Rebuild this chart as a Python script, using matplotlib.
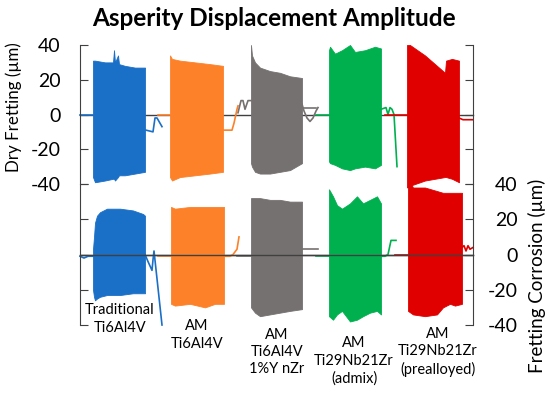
import numpy as np
import matplotlib.pyplot as plt
import matplotlib.transforms as mtransforms

plt.rcParams['font.family'] = ['Lato', 'DejaVu Sans']
plt.rcParams['axes.unicode_minus'] = False

# sample names and colours (left to right)
names = ['Traditional\nTi6Al4V', 'AM\nTi6Al4V', 'AM\nTi6Al4V\n1%Y nZr',
         'AM\nTi29Nb21Zr\n(admix)', 'AM\nTi29Nb21Zr\n(prealloyed)']
colors = ['#1a6fc7', '#fd8128', '#767171', '#00b04f', '#e10000']

# ---- Dry fretting: oscillation envelopes (time, upper, lower) ----
dry_blue_t = [13, 15, 25, 33, 34, 35, 38, 39, 45, 55, 65]
dry_blue_up = [31, 31, 30, 30, 37, 30, 34, 29, 28, 27, 27]
dry_blue_lo = [-36, -39, -38, -37, -37, -38, -36, -35, -35, -34, -33]
dry_orange_t = [90, 92, 100, 115, 130, 143]
dry_orange_up = [34, 32, 31, 30, 29, 28]
dry_orange_lo = [-36, -38, -36, -35, -34, -33]
dry_grey_t = [171, 172, 175, 180, 190, 200, 210, 222]
dry_grey_up = [40, 34, 30, 27, 25, 24, 22, 21]
dry_grey_lo = [-28, -30, -33, -34, -34, -33, -32, -28]
dry_green_t = [249, 250, 255, 262, 270, 275, 285, 295, 301]
dry_green_up = [37, 39, 35, 37, 40, 36, 37, 39, 38]
dry_green_lo = [-27, -28, -29, -31, -32, -31, -30, -31, -29]
dry_red_t = [327, 330, 335, 345, 355, 365, 366, 372, 379]
dry_red_up = [40, 40, 38, 34, 29, 24, 31, 32, 31]
dry_red_lo = [-42, -41, -40, -38, -37, -36, -36, -37, -39]

# dry fretting: traces before/after the oscillation
dry_blue_pre = ([0, 13], [0, 0])
dry_blue_post = ([65, 66, 73, 75, 77, 79, 82], [-9, -9, -10, -2, -2, -4, -7])
dry_orange_pre = ([78, 90], [0, 0])
dry_orange_post = ([143, 152, 154, 157, 158], [-9, -9, -5, 3, 5])
dry_grey_pre = ([158, 161, 163, 165, 168, 171], [1, 8, 8, 3, 8, 8])
dry_grey_post = ([222, 224, 227, 230, 233, 236, 238], [6, 2, -2, -4, -2, 2, 4])
dry_grey_post2 = ([223, 236], [4, 4])
dry_green_pre = ([236, 249], [0, 0])
dry_green_post = ([301, 306, 308, 310, 312, 314, 317], [3, 4, 0, 4, 3, 0, -30])
dry_red_pre = ([305, 327], [0, 0])
dry_red_post = ([379, 383, 393], [-2, -3, -3])

# ---- Fretting corrosion ----
cor_blue_t = [13, 14, 15, 17, 20, 27, 40, 53, 63, 65]
cor_blue_up = [3, 10, 18, 22, 24, 26, 26, 25, 23, 22]
cor_blue_lo = [-20, -24, -26, -25, -24, -23, -23, -22, -22, -22]
cor_orange_t = [91, 95, 110, 125, 135, 144]
cor_orange_up = [27, 26, 27, 27, 27, 27]
cor_orange_lo = [-28, -29, -28, -30, -28, -28]
cor_grey_t = [171, 175, 180, 190, 200, 210, 222]
cor_grey_up = [32, 32, 32, 31, 31, 30, 30]
cor_grey_lo = [-30, -33, -35, -34, -33, -32, -31]
cor_green_t = [249, 253, 257, 262, 270, 277, 283, 290, 297, 301]
cor_green_up = [37, 33, 28, 26, 29, 33, 29, 31, 33, 29]
cor_green_lo = [-35, -37, -34, -32, -38, -37, -35, -33, -32, -34]
cor_red_t = [328, 333, 345, 357, 363, 370, 375, 382]
cor_red_up = [43, 38, 38, 36, 35, 35, 35, 35]
cor_red_lo = [-32, -34, -35, -34, -30, -28, -29, -28]

cor_blue_pre = ([0, 4, 8, 13], [-1, -2, -1, -1])
cor_blue_post = ([65, 68, 72, 73, 74, 82], [0, -4, -9, -3, 2, -40])
cor_orange_pre = ([78, 91], [-1, -1])
cor_orange_post = ([144, 150, 153, 157, 159], [-1, -1, 0, 3, 10])
cor_grey_pre = ([157, 171], [-1, -1])
cor_grey_post = ([222, 238], [3, 3])
cor_green_pre = ([236, 249], [-1, -1])
cor_green_post = ([301, 305, 308, 311, 316], [-1, -1, 0, 8, 8])
cor_red_pre = ([315, 328], [0, 0])
cor_red_post = ([382, 384, 386, 388, 390, 393], [4, 5, 2, 5, 3, 4])

yticks = [-40, -20, 0, 20, 40]

dry = [(dry_blue_t, dry_blue_up, dry_blue_lo, [dry_blue_pre, dry_blue_post]),
       (dry_orange_t, dry_orange_up, dry_orange_lo, [dry_orange_pre, dry_orange_post]),
       (dry_grey_t, dry_grey_up, dry_grey_lo, [dry_grey_pre, dry_grey_post, dry_grey_post2]),
       (dry_green_t, dry_green_up, dry_green_lo, [dry_green_pre, dry_green_post]),
       (dry_red_t, dry_red_up, dry_red_lo, [dry_red_pre, dry_red_post])]
cor = [(cor_blue_t, cor_blue_up, cor_blue_lo, [cor_blue_pre, cor_blue_post]),
       (cor_orange_t, cor_orange_up, cor_orange_lo, [cor_orange_pre, cor_orange_post]),
       (cor_grey_t, cor_grey_up, cor_grey_lo, [cor_grey_pre, cor_grey_post]),
       (cor_green_t, cor_green_up, cor_green_lo, [cor_green_pre, cor_green_post]),
       (cor_red_t, cor_red_up, cor_red_lo, [cor_red_pre, cor_red_post])]

W, H = 550, 393
fig = plt.figure(figsize=(5.5, 3.93), dpi=100)
ax1 = fig.add_axes([80 / W, 1 - 184 / H, 393 / W, 139 / H])
ax2 = fig.add_axes([80 / W, 1 - 325 / H, 393 / W, 141 / H])


def draw(ax, series):
    ax.axhline(0, color='#404040', lw=1, zorder=1, clip_on=False)
    for (t, up, lo, traces), c in zip(series, colors):
        ax.fill_between(t, lo, up, color=c, lw=0.6, edgecolor=c, zorder=2, clip_on=False)
        for tx, ty in traces:
            ax.plot(tx, ty, color=c, lw=1.2, zorder=2, clip_on=False)
    ax.set_xlim(0, 393)
    ax.set_ylim(-40, 40)
    ax.set_yticks(yticks)
    ax.set_xticks([])
    ax.patch.set_visible(False)
    for s in ['top', 'bottom']:
        ax.spines[s].set_visible(False)
    for s in ['left', 'right']:
        ax.spines[s].set_color('#404040')
    ax.tick_params(axis='y', direction='in', length=6, color='#404040',
                   left=True, right=True, labelsize=14)


draw(ax1, dry)
draw(ax2, cor)
ax2.axhline(0, color='#404040', lw=1, zorder=3, clip_on=False)

ax1.tick_params(axis='y', labelleft=True, labelright=False, pad=14)
ax2.tick_params(axis='y', labelleft=False, labelright=True, pad=32)
for lab in ax2.get_yticklabels():
    lab.set_horizontalalignment('right')

fig.text(14 / W, 1 - 107 / H, 'Dry Fretting (µm)', rotation=90,
         fontsize=12.2, ha='center', va='center')
fig.text(537 / W, 1 - 276 / H, 'Fretting Corrosion (µm)', rotation=90,
         fontsize=13.5, ha='center', va='center')

fig.text(274 / W, 1 - 18 / H, 'Asperity Displacement Amplitude',
         fontsize=17.5, fontweight='bold', ha='center', va='center')

# sample labels under the traces
label_x = [40, 117, 197, 274, 358]
label_y = [319, 335, 352, 361, 352]
trans = mtransforms.blended_transform_factory(ax2.transData, fig.transFigure)
for name, lx, ly in zip(names, label_x, label_y):
    ax2.text(lx, 1 - ly / H, name, transform=trans, ha='center', va='center',
             fontsize=10.5, linespacing=1.3, zorder=5)

fig.savefig('out.png', dpi=100)
